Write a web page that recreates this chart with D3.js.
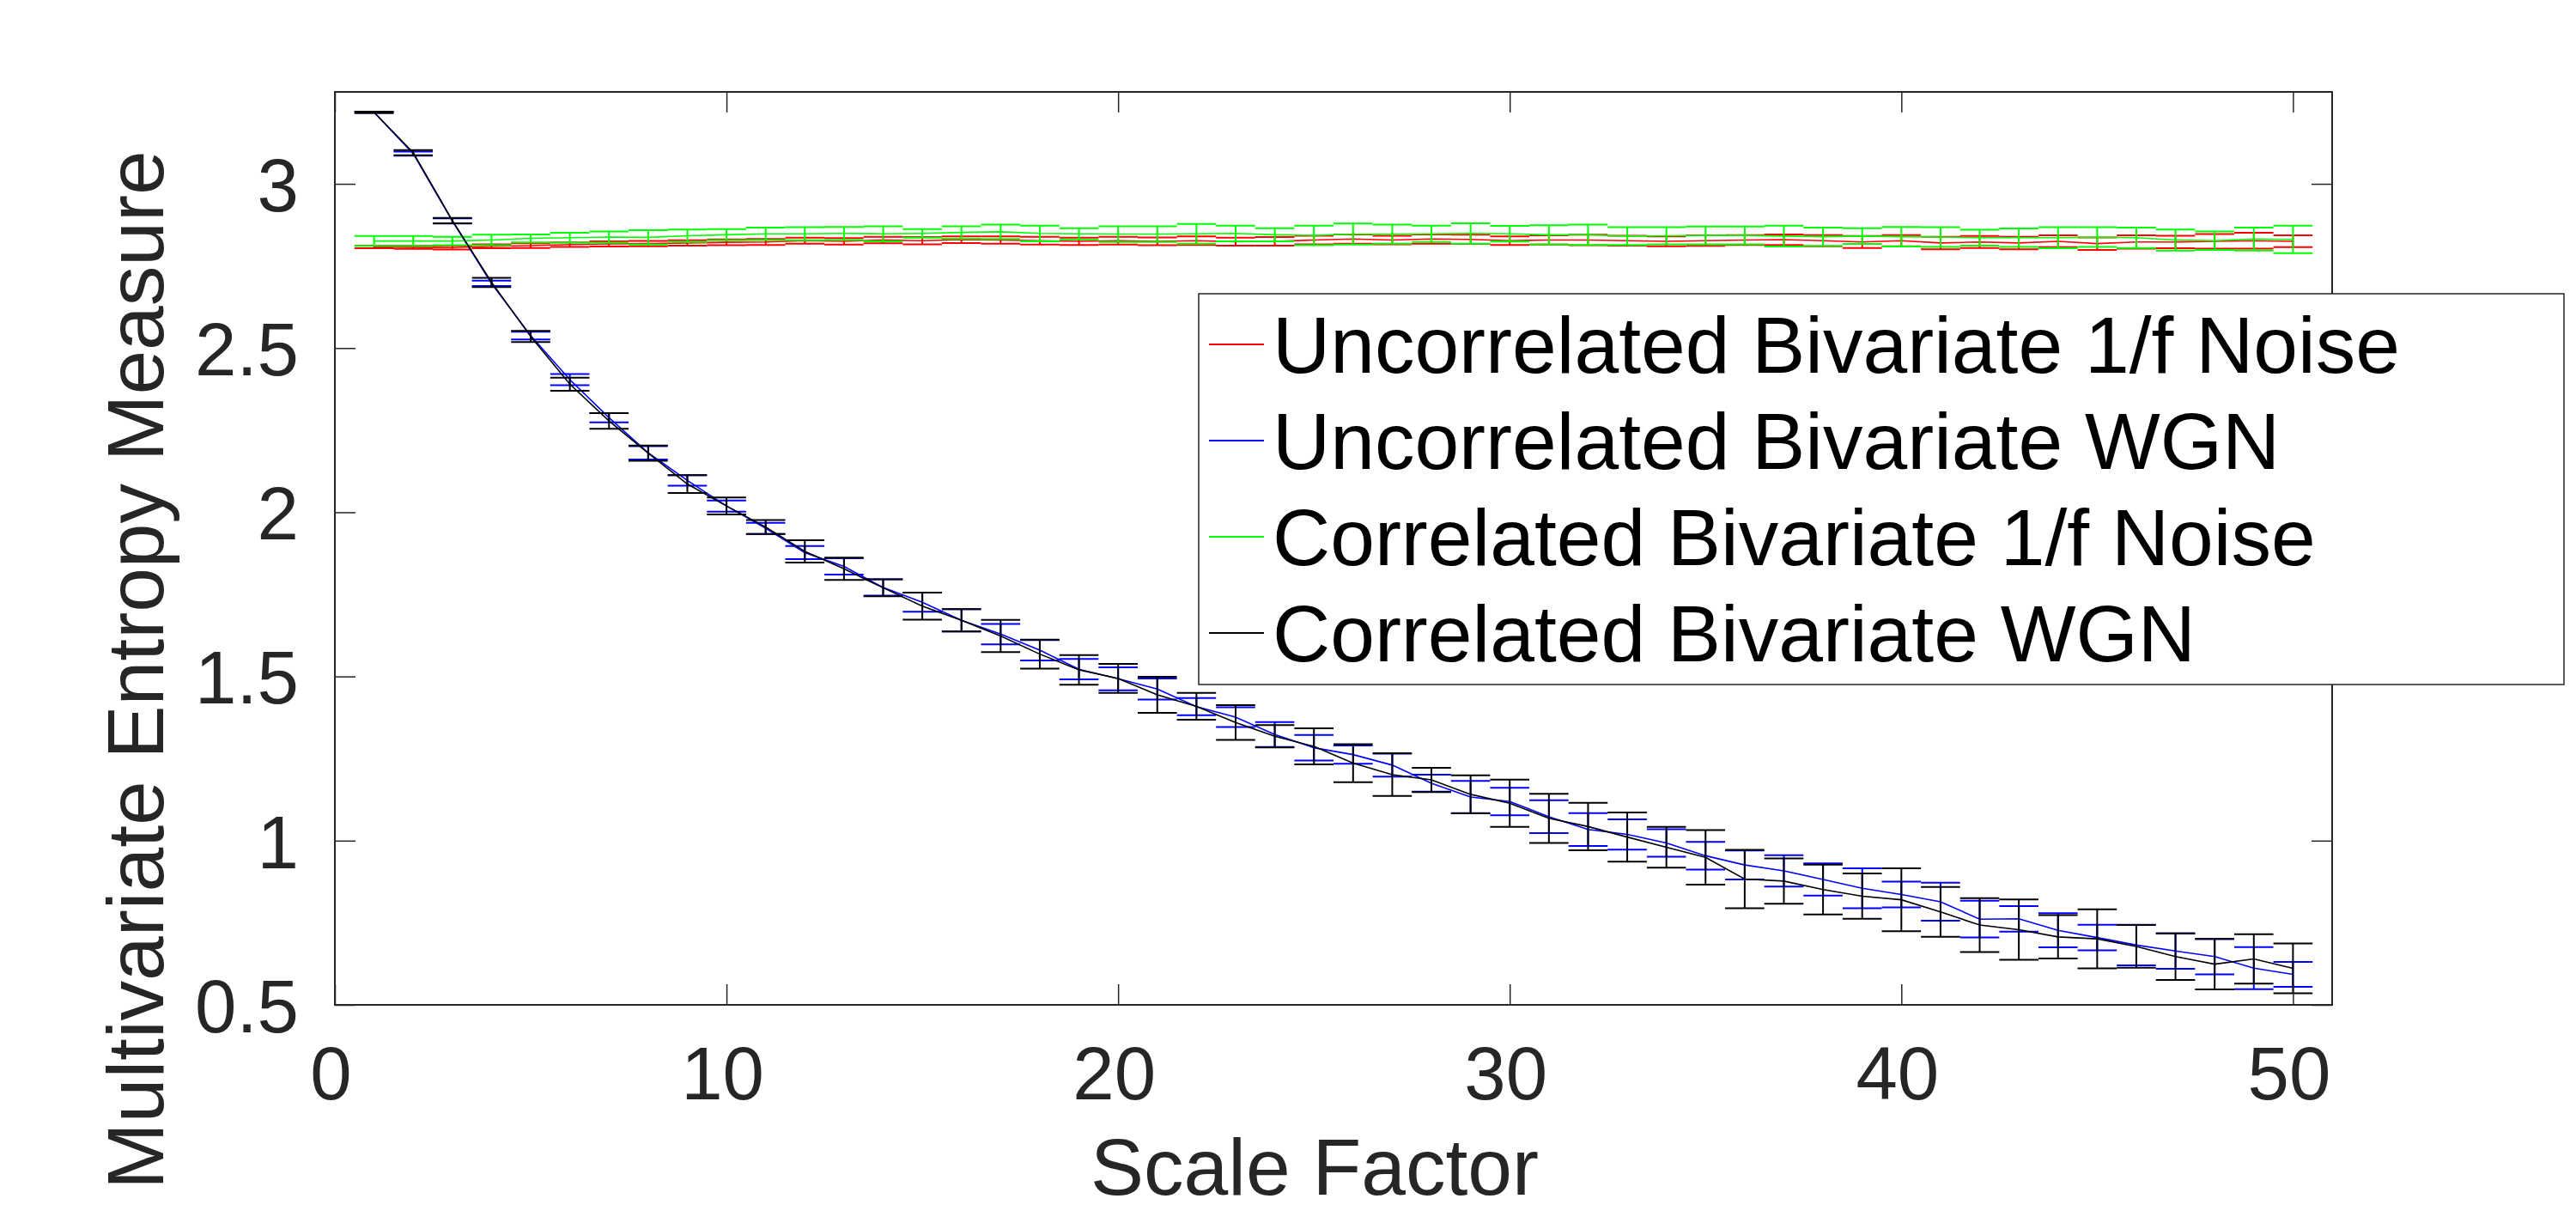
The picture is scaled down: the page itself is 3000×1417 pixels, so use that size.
<!DOCTYPE html>
<html>
<head>
<meta charset="utf-8">
<script src="https://cdn.jsdelivr.net/npm/d3@7"></script>
<style>
  html, body { margin: 0; padding: 0; background: #fff; }
  svg { display: block; font-family: "Liberation Sans", Arial, Helvetica, sans-serif; }
</style>
</head>
<body>
<div id="chart"></div>
<script>
// Scale factors (x)
const scaleFactor = [1,2,3,4,5,6,7,8,9,10,11,12,13,14,15,16,17,18,19,20,
  21,22,23,24,25,26,27,28,29,30,31,32,33,34,35,36,37,38,39,40,
  41,42,43,44,45,46,47,48,49,50];

// Uncorrelated Bivariate 1/f Noise
const uncorrPink = [2.808,2.807,2.806,2.810,2.812,2.815,2.817,2.818,2.820,2.822,
  2.823,2.827,2.825,2.829,2.827,2.830,2.829,2.827,2.825,2.827,
  2.825,2.827,2.824,2.825,2.829,2.832,2.829,2.832,2.831,2.827,
  2.829,2.829,2.827,2.825,2.827,2.829,2.830,2.827,2.823,2.827,
  2.820,2.823,2.820,2.825,2.818,2.823,2.823,2.825,2.827,2.825];
const uncorrPinkErr = [0.004,0.005,0.006,0.006,0.007,0.007,0.008,0.008,0.008,0.009,
  0.009,0.009,0.010,0.010,0.011,0.010,0.011,0.012,0.011,0.012,
  0.012,0.013,0.012,0.013,0.013,0.014,0.013,0.014,0.014,0.013,
  0.014,0.016,0.015,0.015,0.016,0.015,0.016,0.017,0.018,0.017,
  0.019,0.018,0.019,0.018,0.019,0.020,0.019,0.022,0.024,0.018];

// Uncorrelated Bivariate WGN
const uncorrWgn = [3.218,3.092,2.887,2.697,2.538,2.404,2.288,2.181,2.097,2.019,
  1.951,1.877,1.835,1.771,1.726,1.671,1.629,1.580,1.522,1.493,
  1.462,1.408,1.376,1.323,1.283,1.262,1.230,1.175,1.133,1.119,
  1.073,1.034,1.019,0.993,0.954,0.926,0.908,0.882,0.855,0.836,
  0.814,0.761,0.762,0.727,0.705,0.682,0.664,0.647,0.612,0.593];
const uncorrWgnErr = [0.002,0.006,0.008,0.008,0.012,0.017,0.014,0.020,0.016,0.017,
  0.017,0.020,0.025,0.025,0.029,0.034,0.031,0.031,0.031,0.035,
  0.032,0.026,0.030,0.038,0.039,0.028,0.035,0.026,0.049,0.042,
  0.050,0.050,0.046,0.042,0.042,0.044,0.048,0.049,0.061,0.039,
  0.058,0.056,0.039,0.052,0.039,0.062,0.054,0.054,0.064,0.038];

// Correlated Bivariate 1/f Noise
const corrPink = [2.826,2.826,2.826,2.829,2.834,2.836,2.838,2.837,2.842,2.845,
  2.848,2.848,2.849,2.848,2.849,2.852,2.854,2.849,2.848,2.847,
  2.847,2.848,2.849,2.845,2.843,2.847,2.847,2.848,2.849,2.848,
  2.845,2.845,2.841,2.842,2.843,2.843,2.841,2.839,2.841,2.839,
  2.838,2.836,2.836,2.836,2.838,2.836,2.829,2.827,2.832,2.831];
const corrPinkErr = [0.015,0.015,0.013,0.016,0.012,0.015,0.017,0.022,0.019,0.017,
  0.019,0.020,0.020,0.023,0.013,0.019,0.022,0.024,0.017,0.024,
  0.024,0.030,0.024,0.020,0.030,0.032,0.029,0.025,0.031,0.024,
  0.029,0.031,0.027,0.026,0.027,0.027,0.032,0.028,0.024,0.030,
  0.030,0.024,0.028,0.032,0.030,0.031,0.032,0.028,0.035,0.042];

// Correlated Bivariate WGN
const corrWgn = [3.218,3.095,2.888,2.700,2.535,2.390,2.278,2.180,2.086,2.019,
  1.955,1.881,1.828,1.770,1.714,1.671,1.623,1.568,1.520,1.494,
  1.444,1.409,1.360,1.318,1.287,1.236,1.201,1.185,1.141,1.114,
  1.068,1.043,1.011,0.980,0.949,0.883,0.877,0.851,0.831,0.820,
  0.783,0.743,0.729,0.707,0.701,0.678,0.647,0.624,0.640,0.611];
const corrWgnErr = [0.002,0.008,0.008,0.014,0.017,0.020,0.024,0.023,0.027,0.026,
  0.021,0.034,0.034,0.026,0.041,0.034,0.049,0.044,0.045,0.044,
  0.055,0.041,0.053,0.034,0.055,0.058,0.065,0.037,0.058,0.072,
  0.075,0.072,0.075,0.062,0.083,0.089,0.069,0.076,0.069,0.096,
  0.076,0.082,0.092,0.066,0.090,0.065,0.071,0.077,0.075,0.076];

const xTicks = [0, 10, 20, 30, 40, 50];
const yTicks = [0.5, 1, 1.5, 2, 2.5, 3];

const seriesNames = [
  'Uncorrelated Bivariate 1/f Noise',
  'Uncorrelated Bivariate WGN',
  'Correlated Bivariate 1/f Noise',
  'Correlated Bivariate WGN'
];
const seriesColors = ['#ff0000', '#0000ff', '#00ff00', '#000000'];
const seriesValues = [uncorrPink, uncorrWgn, corrPink, corrWgn];
const seriesErrors = [uncorrPinkErr, uncorrWgnErr, corrPinkErr, corrWgnErr];

// Layout
const width = 3000, height = 1417;
const plot = { left: 390, right: 2716, top: 107, bottom: 1170 };
const axisColor = '#262626';
const fontSize = 93;
const tickFontSize = 87;

const svg = d3.select('#chart').append('svg')
  .attr('width', width)
  .attr('height', height)
  .style('background', '#fff');

const x = d3.scaleLinear().domain([0, 51]).range([plot.left, plot.right]);
const y = d3.scaleLinear().domain([0.5, 3.28]).range([plot.bottom, plot.top]);

// Series with error bars (drawn in legend order)
const series = seriesNames.map((name, i) => ({
  name,
  color: seriesColors[i],
  points: scaleFactor.map((sf, j) => ({ x: sf, v: seriesValues[i][j], e: seriesErrors[i][j] }))
}));

const line = d3.line().x(d => x(d.x)).y(d => y(d.v));
const capHalf = 0.5;

const dataG = svg.append('g');
series.forEach(s => {
  const g = dataG.append('g');
  const bars = g.selectAll('g.bar').data(s.points).enter().append('g').attr('class', 'bar')
    .attr('stroke', s.color).attr('stroke-width', 2);
  bars.append('line')
    .attr('x1', d => x(d.x)).attr('x2', d => x(d.x))
    .attr('y1', d => y(d.v - d.e)).attr('y2', d => y(d.v + d.e));
  bars.append('line')
    .attr('x1', d => x(d.x - capHalf)).attr('x2', d => x(d.x + capHalf))
    .attr('y1', d => y(d.v + d.e)).attr('y2', d => y(d.v + d.e));
  bars.append('line')
    .attr('x1', d => x(d.x - capHalf)).attr('x2', d => x(d.x + capHalf))
    .attr('y1', d => y(d.v - d.e)).attr('y2', d => y(d.v - d.e));
  g.append('path')
    .datum(s.points)
    .attr('fill', 'none')
    .attr('stroke', s.color)
    .attr('stroke-width', 1.6)
    .attr('d', line);
});

// Axes (ticks pointing inward, box on)
function styleAxis(g) {
  g.select('.domain').remove();
  g.selectAll('.tick line').attr('stroke', axisColor).attr('stroke-width', 1.5);
  g.selectAll('.tick text')
    .attr('fill', axisColor)
    .style('font-size', tickFontSize + 'px')
    .style('font-family', '"Liberation Sans", Arial, sans-serif');
}

svg.append('g')
  .attr('transform', `translate(0,${plot.bottom})`)
  .call(d3.axisBottom(x).tickValues(xTicks).tickSize(-24).tickSizeOuter(0).tickPadding(48))
  .call(styleAxis)
  .selectAll('.tick text').attr('dx', -5);

svg.append('g')
  .attr('transform', `translate(0,${plot.top})`)
  .call(d3.axisTop(x).tickValues(xTicks).tickSize(-24).tickSizeOuter(0).tickFormat(''))
  .call(styleAxis);

svg.append('g')
  .attr('transform', `translate(${plot.left},0)`)
  .call(d3.axisLeft(y).tickValues(yTicks).tickSize(-24).tickSizeOuter(0).tickPadding(42).tickFormat(d => String(d)))
  .call(styleAxis)
  .selectAll('.tick text').attr('dy', '0.36em');

svg.append('g')
  .attr('transform', `translate(${plot.right},0)`)
  .call(d3.axisRight(y).tickValues(yTicks).tickSize(-24).tickSizeOuter(0).tickFormat(''))
  .call(styleAxis);

svg.append('rect')
  .attr('x', plot.left).attr('y', plot.top)
  .attr('width', plot.right - plot.left).attr('height', plot.bottom - plot.top)
  .attr('fill', 'none').attr('stroke', axisColor).attr('stroke-width', 2);

// Axis labels
svg.append('text')
  .attr('x', 1531).attr('y', 1391)
  .attr('text-anchor', 'middle')
  .attr('fill', axisColor)
  .style('font-size', fontSize + 'px')
  .text('Scale Factor');

svg.append('text')
  .attr('transform', 'translate(190,780) rotate(-90)')
  .attr('text-anchor', 'middle')
  .attr('fill', axisColor)
  .style('font-size', fontSize + 'px')
  .text('Multivariate Entropy Measure');

// Legend
const legend = svg.append('g').attr('transform', 'translate(1396,342)');
legend.append('rect')
  .attr('width', 1590).attr('height', 455)
  .attr('fill', '#fff').attr('stroke', axisColor).attr('stroke-width', 1.5);

const items = legend.selectAll('g.item').data(series).enter().append('g')
  .attr('class', 'item')
  .attr('transform', (d, i) => `translate(0,${59 + i * 112})`);
items.append('line')
  .attr('x1', 12).attr('x2', 76)
  .attr('stroke', d => d.color).attr('stroke-width', 2);
items.append('text')
  .attr('x', 86).attr('dy', '0.36em')
  .attr('fill', '#000')
  .style('font-size', fontSize + 'px')
  .text(d => d.name);
</script>
</body>
</html>
